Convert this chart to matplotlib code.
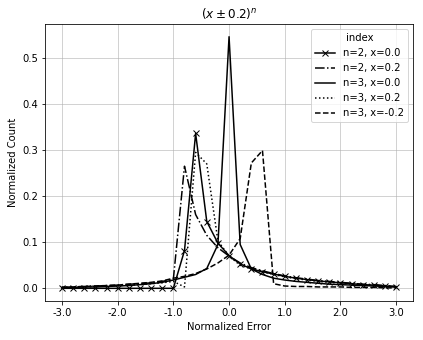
import numpy as np
import matplotlib
matplotlib.use("Agg")
import matplotlib.pyplot as plt

x = [round(-3.0 + 0.2 * i, 1) for i in range(31)]

n2_x00 = [0, 0, 0, 0, 0, 0, 0, 0, 0, 0, 0,
          0.082, 0.336, 0.145, 0.098, 0.071, 0.053,
          0.042, 0.036, 0.031, 0.026, 0.022, 0.019, 0.016, 0.014, 0.012,
          0.010, 0.008, 0.007, 0.005, 0.003]
n2_x02 = [0.002, 0.003, 0.004, 0.005, 0.006, 0.007, 0.009, 0.010, 0.012, 0.015, 0.020,
          0.265, 0.160, 0.115, 0.088, 0.070, 0.055,
          0.045, 0.038, 0.032, 0.027, 0.023, 0.020, 0.017, 0.015, 0.013,
          0.011, 0.009, 0.008, 0.006, 0.004]
n3_x00 = [0.002, 0.002, 0.003, 0.003, 0.004, 0.005, 0.006, 0.008, 0.010, 0.013, 0.018,
          0.024, 0.030, 0.043, 0.095, 0.546, 0.095,
          0.042, 0.030, 0.022, 0.018, 0.015, 0.013, 0.011, 0.009, 0.008,
          0.007, 0.006, 0.005, 0.004, 0.003]
n3_x02 = [0.002, 0.002, 0.003, 0.004, 0.005, 0.006, 0.007, 0.008, 0.010, 0.012, 0.015,
          0.003, 0.295, 0.270, 0.103, 0.070, 0.050,
          0.042, 0.036, 0.030, 0.025, 0.021, 0.018, 0.015, 0.013, 0.011,
          0.009, 0.008, 0.007, 0.005, 0.004]
n3_xm02 = [0.002, 0.003, 0.004, 0.005, 0.006, 0.007, 0.009, 0.011, 0.013, 0.016, 0.022,
           0.026, 0.032, 0.042, 0.055, 0.072, 0.108,
           0.272, 0.299, 0.010, 0.005, 0.004, 0.004, 0.003, 0.003, 0.003,
           0.002, 0.002, 0.002, 0.001, 0.001]

labels = ["n=2, x=0.0", "n=2, x=0.2", "n=3, x=0.0", "n=3, x=0.2", "n=3, x=-0.2"]
series = [n2_x00, n2_x02, n3_x00, n3_x02, n3_xm02]
styles = [dict(linestyle="-", marker="x"), dict(linestyle="-."), dict(linestyle="-"),
          dict(linestyle=":"), dict(linestyle="--")]

fig = plt.figure(figsize=(423 / 72, 340 / 72), dpi=72)
ax = fig.add_axes([0.107, 0.115, 0.869, 0.814])
for ys, lab, st in zip(series, labels, styles):
    ax.plot(x, ys, color="black", label=lab, **st)

ax.set_xticks([-3.0, -2.0, -1.0, 0.0, 1.0, 2.0, 3.0])
ax.set_xticklabels(["-3.0", "-2.0", "-1.0", "0.0", "1.0", "2.0", "3.0"])
ax.grid(True, color="#b0b0b0", linewidth=0.8, alpha=0.7)
ax.set_xlabel("Normalized Error")
ax.set_ylabel("Normalized Count")
ax.set_title(r"$(x \pm 0.2)^n$")
ax.legend(title="index", loc="upper right")
fig.savefig("out.png", dpi=72)
